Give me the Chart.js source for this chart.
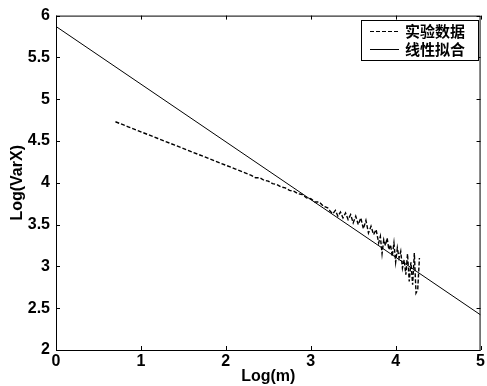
<!DOCTYPE html>
<html>
<head>
<meta charset="utf-8">
<script src="https://cdn.jsdelivr.net/npm/chart.js@4/dist/chart.umd.min.js"></script>
<style>
  html, body { margin: 0; padding: 0; background: #fff; }
  #wrap { width: 487px; height: 386px; }
</style>
</head>
<body>
<div id="wrap"><canvas id="myChart" width="487" height="386"></canvas></div>
<script>
const expX = [0.70, 0.85, 1.00, 1.20, 1.40, 1.60, 1.80, 2.00, 2.10, 2.20,
  2.30, 2.35, 2.40, 2.45, 2.50, 2.55, 2.60, 2.65, 2.70, 2.75,
  2.80, 2.85, 2.90, 2.95, 3.00, 3.05, 3.10, 3.15, 3.20, 3.23,
  3.26, 3.29, 3.32, 3.35, 3.38, 3.41, 3.44, 3.47, 3.50, 3.53,
  3.56, 3.59, 3.62, 3.65, 3.68, 3.71, 3.74, 3.77, 3.80, 3.82,
  3.84, 3.86, 3.88, 3.90, 3.92, 3.94, 3.96, 3.98, 4.00, 4.02,
  4.04, 4.06, 4.08, 4.10, 4.12, 4.14, 4.16, 4.18, 4.20, 4.22,
  4.24, 4.26, 4.28];
const expY = [4.73, 4.67, 4.61, 4.53, 4.45, 4.37, 4.29, 4.21, 4.17, 4.13,
  4.09, 4.06, 4.06, 4.03, 4.02, 3.99, 3.98, 3.95, 3.94, 3.91,
  3.90, 3.87, 3.86, 3.82, 3.81, 3.77, 3.77, 3.72, 3.70, 3.66,
  3.63, 3.67, 3.60, 3.65, 3.58, 3.64, 3.56, 3.62, 3.52, 3.60,
  3.50, 3.58, 3.45, 3.55, 3.40, 3.48, 3.38, 3.44, 3.28, 3.36,
  3.15, 3.32, 3.25, 3.34, 3.20, 3.26, 3.12, 3.28, 3.05, 3.22,
  3.10, 3.18, 2.98, 3.08, 2.90, 3.15, 2.82, 3.05, 2.78, 3.16,
  2.68, 2.72, 3.10];

// 线性拟合
const fitX = [0, 5];
const fitY = [5.87, 2.42];

const labels = ["实验数据", "线性拟合"];
const xTicks = [0, 1, 2, 3, 4, 5];
const yTicks = [2, 2.5, 3, 3.5, 4, 4.5, 5, 5.5, 6];

const toPoints = (xs, ys) => xs.map((x, i) => ({ x: x, y: ys[i] }));

const tickFont = { family: "'Liberation Sans', Arial, sans-serif", size: 16, weight: "bold" };

// box, inward ticks and the legend inside the plot
const boxPlugin = {
  id: "box",
  afterDraw(chart) {
    const { ctx, chartArea: a, scales } = chart;
    ctx.save();
    ctx.strokeStyle = "#000";
    ctx.lineWidth = 1;
    ctx.strokeRect(a.left + 0.5, a.top + 0.5, a.right - a.left - 1, a.bottom - a.top);
    ctx.beginPath();
    xTicks.forEach((v) => {
      const px = Math.round(scales.x.getPixelForValue(v)) + 0.5;
      ctx.moveTo(px, a.bottom); ctx.lineTo(px, a.bottom - 4);
      ctx.moveTo(px, a.top); ctx.lineTo(px, a.top + 4);
    });
    yTicks.forEach((v) => {
      const py = Math.round(scales.y.getPixelForValue(v)) + 0.5;
      ctx.moveTo(a.left, py); ctx.lineTo(a.left + 4, py);
      ctx.moveTo(a.right, py); ctx.lineTo(a.right - 4, py);
    });
    ctx.stroke();

    // legend
    const lx = 361, ly = 20, lw = 117, lh = 40;
    ctx.fillStyle = "#fff";
    ctx.fillRect(lx, ly, lw, lh);
    ctx.strokeRect(lx + 0.5, ly + 0.5, lw, lh);
    ctx.font = "bold 15px 'Noto Sans CJK SC', sans-serif";
    ctx.textBaseline = "middle";
    ctx.fillStyle = "#000";
    chart.data.datasets.forEach((ds, i) => {
      const y = ly + 11 + i * 18 + 0.5;
      ctx.beginPath();
      ctx.setLineDash(ds.borderDash || []);
      ctx.moveTo(lx + 9, y); ctx.lineTo(lx + 38, y);
      ctx.stroke();
      ctx.setLineDash([]);
      ctx.fillText(ds.label, lx + 44, y);
    });
    ctx.restore();
  },
};

const ctx = document.getElementById("myChart").getContext("2d");
const myChart = new Chart(ctx, {
  type: "scatter",
  data: {
    datasets: [
      {
        label: labels[0],
        data: toPoints(expX, expY),
        showLine: true,
        borderColor: "#000",
        borderWidth: 1.4,
        borderDash: [4, 2],
        pointRadius: 0,
        tension: 0,
      },
      {
        label: labels[1],
        data: toPoints(fitX, fitY),
        showLine: true,
        borderColor: "#000",
        borderWidth: 1,
        pointRadius: 0,
      },
    ],
  },
  options: {
    responsive: false,
    animation: false,
    layout: { padding: { top: 15, right: 4, left: 0, bottom: 0 } },
    plugins: { legend: { display: false }, tooltip: { enabled: false } },
    scales: {
      x: {
        type: "linear",
        min: 0,
        max: 5,
        afterFit: (s) => { s.height = 36; },
        afterBuildTicks: (s) => { s.ticks = xTicks.map((v) => ({ value: v })); },
        grid: { display: false, drawTicks: false },
        border: { display: false },
        ticks: { color: "#000", font: tickFont, padding: 2, callback: (v) => String(v) },
        title: {
          display: true,
          text: "Log(m)",
          color: "#000",
          font: tickFont,
          padding: { top: 0, bottom: 0 },
        },
      },
      y: {
        type: "linear",
        min: 2,
        max: 6,
        afterFit: (s) => { s.width = 56; },
        afterBuildTicks: (s) => { s.ticks = yTicks.map((v) => ({ value: v })); },
        grid: { display: false, drawTicks: false },
        border: { display: false },
        ticks: { color: "#000", font: tickFont, padding: 6, callback: (v) => String(v) },
        title: {
          display: true,
          text: "Log(VarX)",
          color: "#000",
          font: tickFont,
          padding: { top: 8, bottom: 0 },
        },
      },
    },
  },
  plugins: [boxPlugin],
});
</script>
</body>
</html>
